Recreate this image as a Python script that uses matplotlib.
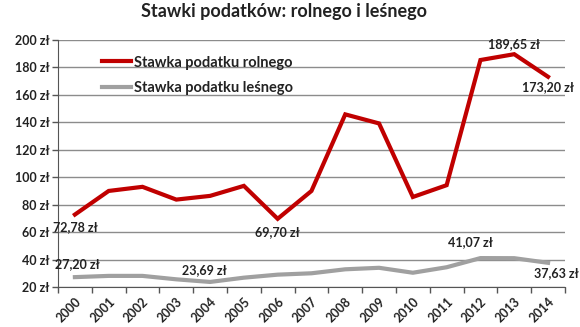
import numpy as np
import matplotlib
matplotlib.use("Agg")
import matplotlib.pyplot as plt

plt.rcParams['font.family'] = ['Lato', 'DejaVu Sans']

years = [str(y) for y in range(2000, 2015)]
rolny = [72.78, 90.0, 93.0, 83.7, 86.4, 93.7, 69.70, 90.0, 145.8, 139.2,
         85.6, 94.2, 185.4, 189.65, 173.20]
lesny = [27.20, 28.1, 28.1, 25.6, 23.69, 26.8, 29.0, 30.0, 32.9, 34.0,
         30.4, 34.4, 41.07, 41.0, 37.63]
y_ticks = [20, 40, 60, 80, 100, 120, 140, 160, 180, 200]

RED = "#c00000"
GREY = "#a0a0a0"


def zl(v):
    return f"{v:.2f}".replace(".", ",") + " zł"


fig = plt.figure(figsize=(5.8, 3.27), dpi=100)
ax = fig.add_axes([0.1, 0.1223, 0.874, 0.7554])

x = np.arange(len(years))
ax.plot(x, rolny, color=RED, lw=3.0, solid_joinstyle="miter",
        label="Stawka podatku rolnego", zorder=3)
ax.plot(x, lesny, color=GREY, lw=3.0, solid_joinstyle="round",
        label="Stawka podatku leśnego", zorder=3)

ax.set_xlim(-0.5, len(years) - 0.5)
ax.set_ylim(20, 200)
ax.set_yticks(y_ticks)
ax.set_yticklabels([f"{v} zł" for v in y_ticks])
ax.set_xticks(x)
ax.set_xticklabels(years, rotation=45, ha="right", rotation_mode="anchor")
ax.tick_params(axis="x", length=0, pad=6, labelsize=9)
ax.set_xticks(np.arange(-0.5, len(years)), minor=True)
ax.tick_params(axis="x", which="minor", length=4, color="#555555", width=1)
ax.tick_params(axis="y", length=4, color="#555555", width=1, labelsize=9, pad=2)
for lbl in ax.get_xticklabels() + ax.get_yticklabels():
    lbl.set_fontweight("bold")
    lbl.set_color("#222222")

ax.grid(axis="y", color="#8c8c8c", lw=1)
ax.set_axisbelow(True)
for side in ["top", "right"]:
    ax.spines[side].set_visible(False)
ax.spines["left"].set_color("#555555")
ax.spines["bottom"].set_color("#555555")

# value labels on selected points
ann = dict(fontsize=9, fontweight="bold", color="#222222", ha="center")
for i, dy, va in [(0, -5, "top"), (6, -5, "top"), (13, 3, "bottom"), (14, -3, "top")]:
    ax.annotate(zl(rolny[i]), (x[i], rolny[i]), xytext=(0, dy),
                textcoords="offset points", va=va, **ann)
for i, dx, dy, va in [(0, 2, 5, "bottom"), (4, -4, 4, "bottom"),
                      (12, -7, 7, "bottom"), (14, 6, -3, "top")]:
    ax.annotate(zl(lesny[i]), (x[i], lesny[i]), xytext=(dx, dy),
                textcoords="offset points", va=va, **ann)

leg = ax.legend(loc="upper left", bbox_to_anchor=(0.06, 0.99), frameon=False,
                handlelength=2.0, handletextpad=0.2, labelspacing=0.8,
                prop={"weight": "bold", "size": 10.5})
for t in leg.get_texts():
    t.set_color("#222222")

fig.suptitle("Stawki podatków: rolnego i leśnego", x=0.49, y=0.99,
             fontsize=13, fontweight="bold", color="#222222")

fig.savefig("out.png", dpi=100, facecolor="white")
